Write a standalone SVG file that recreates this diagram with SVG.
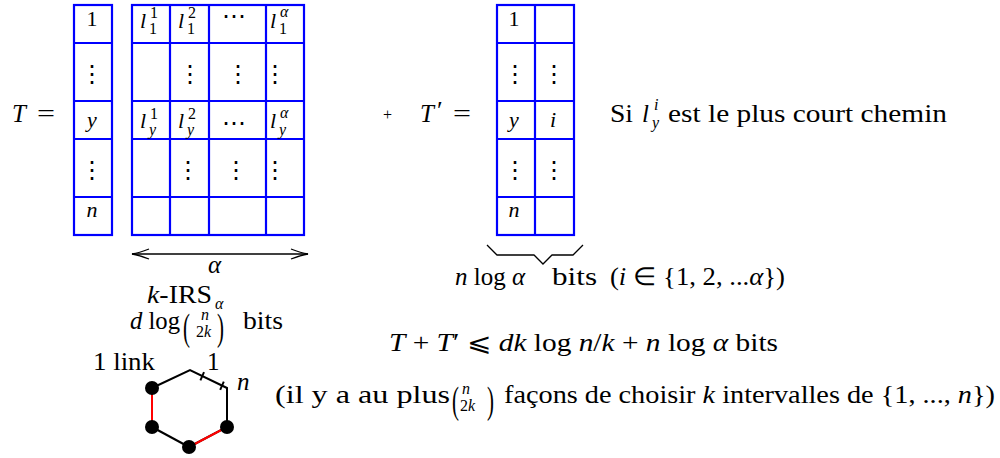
<svg xmlns="http://www.w3.org/2000/svg" width="1000" height="458" viewBox="0 0 1000 458" font-family="'Liberation Serif', serif">
<defs>
<style>
text{font-family:'Liberation Serif',serif;fill:#000;font-size:25px}
.it{font-style:italic}
.tb{font-size:22px}
.sc{font-size:16px}
.big{font-size:38px}
.pr{font-size:26px}
.dots{font-family:'DejaVu Serif',serif;font-size:24px}
.grid{fill:none;stroke:#0000ff;stroke-width:2.2}
.edge{stroke:#000;stroke-width:2;fill:none}
.red{stroke:#ff0000;stroke-width:2;fill:none}
</style>
<marker id="ah" viewBox="0 0 20 12" refX="19" refY="6" markerWidth="20" markerHeight="12" markerUnits="userSpaceOnUse" orient="auto-start-reverse">
<path d="M2,1 Q12,5 19,6 Q12,7 2,11" fill="none" stroke="#000" stroke-width="1.3"/>
</marker>
</defs>
<rect width="1000" height="458" fill="#fff"/>

<g id="T-label">
<text x="12" y="122" class="it">T</text><text x="37" y="122" textLength="18" lengthAdjust="spacingAndGlyphs">=</text>
</g>

<g id="table-T-index">
<rect class="grid" x="74" y="5" width="38" height="230"/>
<path class="grid" d="M74,43H112M74,101H112M74,139H112M74,197H112"/>
<text class="tb" x="92" y="26" text-anchor="middle">1</text>
<text class="dots" x="92" y="82" text-anchor="middle">⋮</text>
<text class="tb it" x="92" y="127" text-anchor="middle">y</text>
<text class="dots" x="92" y="178" text-anchor="middle">⋮</text>
<text class="tb it" x="92" y="217" text-anchor="middle">n</text>
</g>

<g id="table-T-paths">
<rect class="grid" x="132" y="5" width="172" height="230"/>
<path class="grid" d="M170,5V235M209,5V235M266,5V235M132,43H304M132,101H304M132,139H304M132,197H304"/>
<text class="tb it" x="140" y="28">l</text><text class="sc" x="150" y="18">1</text><text class="sc" x="149" y="34">1</text>
<text class="tb it" x="178" y="28">l</text><text class="sc" x="188" y="18">2</text><text class="sc" x="187" y="34">1</text>
<text class="dots" x="234" y="24" text-anchor="middle">⋯</text>
<text class="tb it" x="270" y="28">l</text><text class="sc it" x="280" y="17">α</text><text class="sc" x="279" y="34">1</text>
<text class="dots" x="190" y="82" text-anchor="middle">⋮</text>
<text class="dots" x="238" y="82" text-anchor="middle">⋮</text>
<text class="dots" x="275" y="82" text-anchor="middle">⋮</text>
<text class="tb it" x="140" y="128">l</text><text class="sc" x="150" y="119">1</text><text class="sc it" x="149" y="135">y</text>
<text class="tb it" x="178" y="128">l</text><text class="sc" x="188" y="119">2</text><text class="sc it" x="187" y="135">y</text>
<text class="dots" x="234" y="131" text-anchor="middle">⋯</text>
<text class="tb it" x="270" y="128">l</text><text class="sc it" x="280" y="118">α</text><text class="sc it" x="279" y="135">y</text>
<text class="dots" x="188" y="178" text-anchor="middle">⋮</text>
<text class="dots" x="236" y="178" text-anchor="middle">⋮</text>
<text class="dots" x="275" y="178" text-anchor="middle">⋮</text>
</g>

<g id="connectors">
<line x1="132" y1="254" x2="308" y2="254" stroke="#000" stroke-width="1.5" marker-start="url(#ah)" marker-end="url(#ah)"/>
<polyline points="487,245 497,255 534,255 543,264 552,255 573,255 583,245" fill="none" stroke="#000" stroke-width="1.3"/>
</g>

<g id="alpha-label">
<text x="208" y="273" class="it">α</text>
</g>

<g id="kirs-label">
<text x="147" y="303" textLength="65" lengthAdjust="spacingAndGlyphs"><tspan class="it">k</tspan>-IRS</text><text x="215" y="309" class="sc it">α</text>
<text x="130" y="329" textLength="50" lengthAdjust="spacingAndGlyphs"><tspan class="it">d</tspan> log</text>
<text class="big" x="183" y="340" transform="translate(183,340) scale(0.55,1) translate(-183,-340)">(</text>
<text x="201" y="320" class="sc it">n</text>
<text x="196" y="337" class="sc">2<tspan class="it">k</tspan></text>
<text class="big" x="217" y="340" transform="translate(217,340) scale(0.55,1) translate(-217,-340)">)</text>
<text x="243" y="329" textLength="40" lengthAdjust="spacingAndGlyphs">bits</text>
</g>

<g id="plus">
<text x="383" y="120" class="sc">+</text>
</g>

<g id="Tprime-label">
<text x="420" y="122" class="it">T</text><text x="437" y="119" class="pr">′</text><text x="453" y="122" textLength="18" lengthAdjust="spacingAndGlyphs">=</text>
</g>

<g id="table-Tprime">
<rect class="grid" x="497" y="5" width="77" height="230"/>
<path class="grid" d="M535,5V235M497,43H574M497,101H574M497,139H574M497,197H574"/>
<text class="tb" x="514" y="26" text-anchor="middle">1</text>
<text class="dots" x="515" y="82" text-anchor="middle">⋮</text>
<text class="dots" x="554" y="82" text-anchor="middle">⋮</text>
<text class="tb it" x="514" y="127" text-anchor="middle">y</text>
<text class="tb it" x="553" y="127" text-anchor="middle">i</text>
<text class="dots" x="515" y="178" text-anchor="middle">⋮</text>
<text class="dots" x="554" y="178" text-anchor="middle">⋮</text>
<text class="tb it" x="514" y="217" text-anchor="middle">n</text>
</g>

<g id="si-label">
<text x="610" y="122" textLength="23" lengthAdjust="spacingAndGlyphs">Si</text>
<text x="642" y="122" class="it">l</text><text x="654" y="110" class="sc it">i</text><text x="652" y="128" class="sc it">y</text>
<text x="668" y="122" textLength="279" lengthAdjust="spacingAndGlyphs">est le plus court chemin</text>
</g>

<g id="nlog-label">
<text x="455" y="285" textLength="70" lengthAdjust="spacingAndGlyphs"><tspan class="it">n</tspan> log <tspan class="it">α</tspan></text>
<text x="552" y="285" textLength="45" lengthAdjust="spacingAndGlyphs">bits</text>
<text x="610" y="285" textLength="175" lengthAdjust="spacingAndGlyphs">(<tspan class="it">i</tspan> ∈ {1, 2, ...<tspan class="it">α</tspan>})</text>
</g>

<g id="sum-label">
<text x="389" y="351" textLength="389" lengthAdjust="spacingAndGlyphs"><tspan class="it">T</tspan> + <tspan class="it">T</tspan>′ ⩽ <tspan class="it">dk</tspan> log <tspan class="it">n</tspan>/<tspan class="it">k</tspan> + <tspan class="it">n</tspan> log <tspan class="it">α</tspan> bits</text>
</g>

<g id="hexagon">
<polyline class="edge" points="152,388 190,370 227,388 227,427 189,447"/>
<line class="edge" x1="152" y1="427" x2="189" y2="447"/>
<line class="red" x1="152" y1="388" x2="152" y2="427"/>
<line class="red" x1="189" y1="447" x2="227" y2="427"/>
<line class="edge" x1="200.4" y1="380.4" x2="204" y2="372.2"/>
<line class="edge" x1="220.2" y1="389.9" x2="223.8" y2="381.7"/>
<circle cx="152" cy="388" r="7"/>
<circle cx="152" cy="427" r="7"/>
<circle cx="189" cy="447" r="7"/>
<circle cx="227" cy="427" r="7"/>
<text x="93" y="370" textLength="62" lengthAdjust="spacingAndGlyphs">1 link</text>
<text x="207" y="370">1</text>
<text x="237" y="390" class="it">n</text>
</g>

<g id="binom-note">
<text x="275" y="403" textLength="175" lengthAdjust="spacingAndGlyphs">(il y a au plus</text>
<text class="big" x="452" y="413" transform="translate(452,413) scale(0.55,1) translate(-452,-413)">(</text>
<text x="462" y="394" class="sc it">n</text>
<text x="460" y="411" class="sc">2<tspan class="it">k</tspan></text>
<text class="big" x="487" y="413" transform="translate(487,413) scale(0.55,1) translate(-487,-413)">)</text>
<text x="504" y="403" textLength="491" lengthAdjust="spacingAndGlyphs">façons de choisir <tspan class="it">k</tspan> intervalles de {1, ..., <tspan class="it">n</tspan>})</text>
</g>
</svg>
